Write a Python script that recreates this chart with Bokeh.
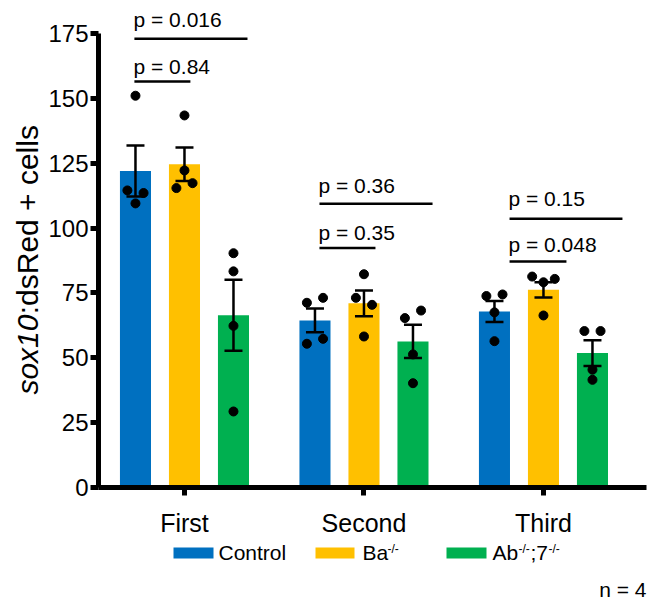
import math
from bokeh.plotting import figure
from bokeh.models import ColumnDataSource, Whisker, TeeHead, FixedTicker, Range1d
from bokeh.layouts import column, row
from bokeh.core.properties import value
from bokeh.embed import file_html
from bokeh.resources import INLINE

# ---------------- data ----------------
groups = ["First", "Second", "Third"]
genotypes = ["Control", "Ba", "Ab;7"]
group_pos = [1, 2, 3]

control_mean = [122.0, 64.4, 67.8]
ba_mean = [124.6, 71.0, 76.2]
ab7_mean = [66.4, 56.3, 51.8]

control_sem = [9.8, 4.6, 4.05]
ba_sem = [6.45, 4.95, 2.95]
ab7_sem = [13.7, 6.4, 4.95]

control_pts = [[151.0, 114.5, 113.5, 109.5], [71.2, 73.1, 55.4, 57.3], [73.8, 74.4, 67.5, 56.4]]
ba_pts = [[143.4, 122.2, 115.4, 117.3], [82.2, 73.1, 70.4, 58.2], [81.3, 79.1, 80.4, 66.3]]
ab7_pts = [[90.3, 83.3, 62.3, 29.3], [65.3, 68.2, 51.3, 40.2], [60.3, 60.3, 45.4, 41.5]]

# horizontal jitter slot of each dot (as drawn)
control_jit = [[0, -1, 1, 0], [-1, 1, -1, 1], [-1, 1, 0, 0]]
ba_jit = [[0, 0, -1, 1], [0, -1, 1, 0], [-1.4, 0, 1.4, 0]]
ab7_jit = [[0, 0, 0, 0], [-1, 1, 0, 0], [-1, 1, 0, 0]]

y_ticks = [0, 25, 50, 75, 100, 125, 150, 175]

# significance brackets
p_labels = ["p = 0.016", "p = 0.84", "p = 0.36", "p = 0.35", "p = 0.15", "p = 0.048"]
p_line_y = [173.0, 156.5, 109.4, 92.3, 103.6, 87.1]
p_text_y = [177.4, 159.2, 113.2, 95.2, 108.3, 90.7]
p_x0 = [0.721, 0.721, 1.752, 1.752, 2.811, 2.811]
p_x1 = [1.351, 1.033, 2.382, 2.064, 3.440, 3.128]
p_tx = [0.716, 0.716, 1.746, 1.746, 2.805, 2.805]

colors = ["#0070C0", "#FFC000", "#00B050"]
FONT = "Liberation Sans"

OFF = 0.273
BAR_W = 0.173
JIT = 0.045
Y_END = 187.7
FRAME_H = 487
PX_PER_Y = FRAME_H / Y_END
SHIFT = 0.38  # em fraction: alphabetic-baseline correction for svg text

H1 = 540
YL_W = 44

p = figure(width=648 - YL_W, height=H1, x_range=Range1d(0.521, 3.574), y_range=Range1d(0, Y_END),
           output_backend="svg", toolbar_location=None,
           min_border_left=54, min_border_right=2, min_border_top=0, min_border_bottom=H1 - FRAME_H)
p.xgrid.visible = False
p.ygrid.visible = False
p.outline_line_color = None
p.background_fill_color = "white"
p.border_fill_color = "white"

means = [control_mean, ba_mean, ab7_mean]
sems = [control_sem, ba_sem, ab7_sem]
pts = [control_pts, ba_pts, ab7_pts]
jits = [control_jit, ba_jit, ab7_jit]

for gi in range(3):
    xs = [g + (gi - 1) * OFF for g in group_pos]
    src = ColumnDataSource(dict(x=xs, top=means[gi],
                                upper=[m + s for m, s in zip(means[gi], sems[gi])],
                                lower=[m - s for m, s in zip(means[gi], sems[gi])]))
    p.vbar(x="x", top="top", bottom=0, width=BAR_W, source=src, fill_color=colors[gi], line_color=None)
    dx, dy = [], []
    for k in range(3):
        for v, j in zip(pts[gi][k], jits[gi][k]):
            dx.append(xs[k] + j * JIT)
            dy.append(v)
    p.scatter(dx, dy, size=9, color="black")
    w = Whisker(base="x", upper="upper", lower="lower", source=src, dimension="height",
                line_width=2.5, line_color="black", level="annotation",
                upper_head=TeeHead(size=18, line_width=2.5, line_color="black"),
                lower_head=TeeHead(size=18, line_width=2.5, line_color="black"))
    p.add_layout(w)

p.segment(x0=p_x0, y0=p_line_y, x1=p_x1, y1=p_line_y, line_color="black", line_width=2.5)
p.text(x=p_tx, y=[t + SHIFT * 21 / PX_PER_Y for t in p_text_y], text=p_labels,
       text_font=value(FONT), text_font_size=value("21px"),
       text_align="left", text_baseline="alphabetic", text_color="black")

for ax in (p.xaxis[0], p.yaxis[0]):
    ax.axis_line_width = 5
    ax.axis_line_color = "black"
    ax.major_tick_line_width = 5
    ax.major_tick_line_color = "black"
    ax.major_tick_out = 8
    ax.major_tick_in = 0
    ax.minor_tick_line_color = None
    ax.major_label_text_font = FONT
    ax.major_label_text_color = "black"

p.yaxis.ticker = FixedTicker(ticks=y_ticks)
p.yaxis.bounds = (0, 175)
p.yaxis.major_label_text_font_size = "24px"
p.yaxis.major_label_standoff = 2

p.xaxis.ticker = FixedTicker(ticks=group_pos)
p.xaxis.major_label_overrides = {g: n for g, n in zip(group_pos, groups)}
p.xaxis.major_label_text_font_size = "25px"
p.xaxis.major_label_standoff = 13

# ---------------- y label strip ----------------
yl = figure(width=YL_W, height=H1, x_range=Range1d(0, YL_W), y_range=Range1d(0, H1),
            output_backend="svg", toolbar_location=None, min_border=0,
            x_axis_type=None, y_axis_type=None)
yl.outline_line_color = None
YF = 30
ROT_DY = 39  # empirical offset of rotated svg text along its direction
start_c = 398
yl.text(x=[38 - SHIFT * YF], y=[H1 - start_c - ROT_DY], text=["sox10"], angle=math.pi / 2,
        text_font=value(FONT), text_font_style="italic", text_font_size=value(f"{YF}px"),
        text_align="left", text_baseline="alphabetic", text_color="black")
yl.text(x=[38 - SHIFT * YF], y=[H1 - start_c - ROT_DY + 2.668 * YF + 9], text=[":dsRed + cells"],
        angle=math.pi / 2, text_font=value(FONT), text_font_size=value(f"{YF}px"),
        text_align="left", text_baseline="alphabetic", text_color="black")

# ---------------- legend strip ----------------
H2 = 600 - H1
q = figure(width=648, height=H2, x_range=Range1d(0, 648), y_range=Range1d(0, H2),
           output_backend="svg", toolbar_location=None, min_border=0,
           x_axis_type=None, y_axis_type=None)
q.outline_line_color = None
top_c = 600
q.quad(left=[173, 315, 446], right=[213, 354, 486], bottom=[top_c - 558] * 3, top=[top_c - 547] * 3,
       fill_color=colors, line_color=None)
q.text(x=[218, 362, 492, 530], y=[top_c - 560 + SHIFT * 21] * 4, text=["Control", "Ba", "Ab", ";7"],
       text_font=value(FONT), text_font_size=value("21px"), text_baseline="alphabetic",
       text_align="left", text_color="black")
q.text(x=[387, 518, 548], y=[top_c - 553 + SHIFT * 12] * 3, text=["-/-", "-/-", "-/-"],
       text_font=value(FONT), text_font_size=value("12px"), text_baseline="alphabetic",
       text_align="left", text_color="black")
q.text(x=[646], y=[top_c - 597 + SHIFT * 21], text=["n = 4"], text_font=value(FONT),
       text_font_size=value("21px"), text_baseline="alphabetic", text_align="right", text_color="black")

layout = column(row(yl, p, spacing=0), q, spacing=0)
open("out.html", "w").write(file_html(layout, INLINE))
